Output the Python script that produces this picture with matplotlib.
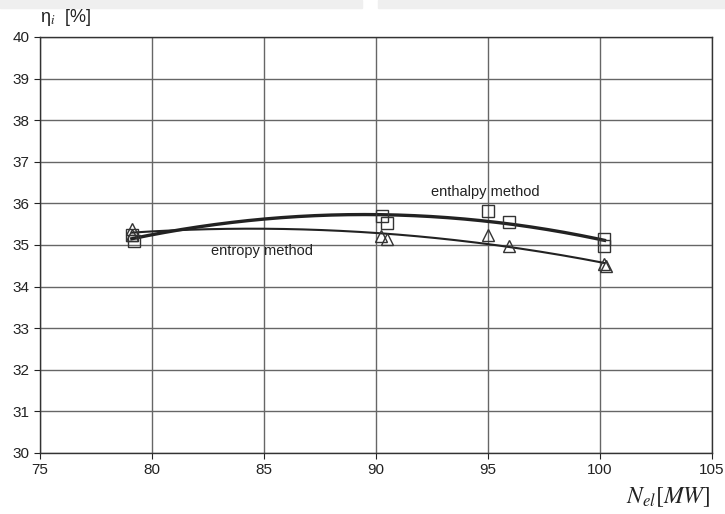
import matplotlib

matplotlib.use("Agg")
import matplotlib.pyplot as plt
import numpy as np
from matplotlib.patches import Rectangle

plt.rcParams["font.family"] = ["Liberation Sans", "DejaVu Sans"]
plt.rcParams["mathtext.fontset"] = "stix"

# измеренные точки (N_el, МВт; КПД, %)
enthalpy_x = [79.1, 79.2, 90.25, 90.48, 94.99, 95.95, 100.18, 100.18]
enthalpy_y = [35.24, 35.10, 35.70, 35.54, 35.82, 35.55, 35.14, 34.98]
entropy_x = [79.1, 79.1, 90.22, 90.48, 94.99, 95.95, 100.18, 100.27]
entropy_y = [35.38, 35.24, 35.22, 35.15, 35.24, 34.98, 34.54, 34.50]

x_ticks = [75, 80, 85, 90, 95, 100, 105]
y_ticks = list(range(30, 41))

fig = plt.figure(figsize=(7.25, 5.14), dpi=100)
# серые полосы сверху (обрезок страницы)
fig.patches.append(Rectangle((0, 1 - 8 / 514), 362 / 725, 8 / 514,
                             transform=fig.transFigure, color="#efefef", zorder=0))
fig.patches.append(Rectangle((378 / 725, 1 - 8 / 514), 347 / 725, 8 / 514,
                             transform=fig.transFigure, color="#efefef", zorder=0))

ax = fig.add_axes([40 / 725, 1 - 453 / 514, 672 / 725, 416 / 514])
ax.set_xlim(75, 105)
ax.set_ylim(30, 40)
ax.set_xticks(x_ticks)
ax.set_yticks(y_ticks)
ax.grid(True, color="#666666", linewidth=1.0)
ax.set_axisbelow(True)
for s in ax.spines.values():
    s.set_color("#333333")
    s.set_linewidth(1.0)
ax.tick_params(direction="out", length=4, labelsize=11, colors="#222222")

# тренды (полином 2-й степени, как в Excel)
xs = np.linspace(79.1, 100.2, 200)
p_h = np.polyfit(enthalpy_x, enthalpy_y, 2)
p_s = np.polyfit(entropy_x, entropy_y, 2)
ax.plot(xs, np.polyval(p_h, xs), color="#222222", linewidth=2.4)
ax.plot(xs, np.polyval(p_s, xs), color="#222222", linewidth=1.5)

ax.plot(enthalpy_x, enthalpy_y, linestyle="none", marker="s", markersize=8,
        markerfacecolor="none", markeredgecolor="#333333", markeredgewidth=1.0)
ax.plot(entropy_x, entropy_y, linestyle="none", marker="^", markersize=9,
        markerfacecolor="none", markeredgecolor="#333333", markeredgewidth=1.0)

ax.text(94.9, 36.27, "enthalpy method", ha="center", va="center", fontsize=10.5, color="#222222")
ax.text(84.9, 34.86, "entropy method", ha="center", va="center", fontsize=10.5, color="#222222")

fig.text(40 / 725, 1 - 17 / 514, "η$_{i}$  [%]", ha="left", va="center", fontsize=13, color="#222222")
fig.text(710 / 725, 1 - 497 / 514, r"$N_{el}[MW]$", ha="right", va="center", fontsize=17, color="#222222")

fig.savefig("out.png", dpi=100)
